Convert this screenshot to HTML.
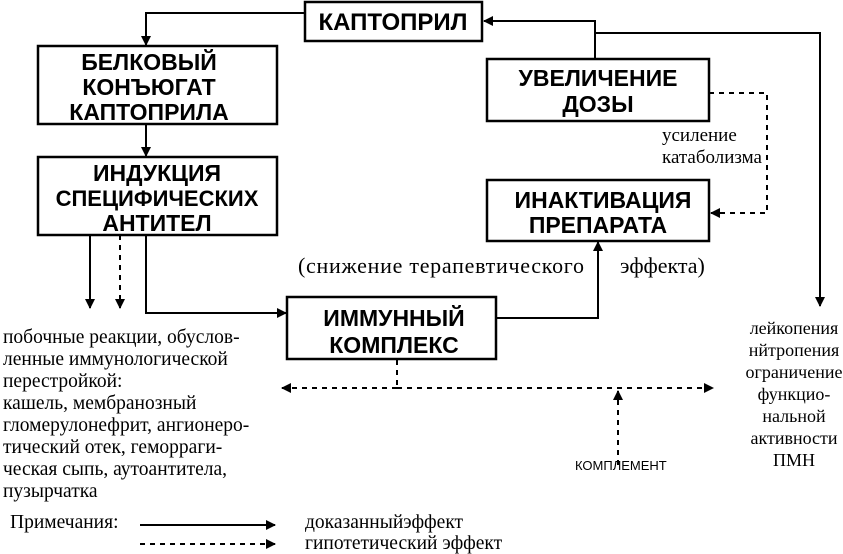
<!DOCTYPE html>
<html><head><meta charset="utf-8"><style>
body{margin:0;background:#fff;}
svg{display:block}
.b{font-family:"Liberation Sans",sans-serif;font-weight:bold;font-size:23px;text-anchor:middle;fill:#000}
.s{font-family:"Liberation Serif",serif;font-size:19.5px;fill:#000}
</style></head><body>
<svg width="843" height="554" viewBox="0 0 843 554" xmlns="http://www.w3.org/2000/svg">
<defs>
<marker id="a" markerWidth="10" markerHeight="10" refX="9" refY="5" orient="auto" markerUnits="userSpaceOnUse"><path d="M0,0 L10,5 L0,10 z" fill="#000"/></marker>
</defs>
<g fill="none" stroke="#000" stroke-width="2.5">
<rect x="305" y="2" width="177" height="39"/>
<rect x="38" y="46" width="239" height="78"/>
<rect x="38" y="157" width="239" height="78"/>
<rect x="487" y="59" width="222" height="62"/>
<rect x="487" y="180" width="222" height="61"/>
<rect x="287" y="297" width="209" height="62"/>
</g>
<g fill="none" stroke="#000" stroke-width="2">
<path d="M305,13 H146 V45" marker-end="url(#a)"/>
<path d="M146,124 V156" marker-end="url(#a)"/>
<path d="M90,235 V308" marker-end="url(#a)"/>
<path d="M146,235 V313 H286" marker-end="url(#a)"/>
<path d="M496,318 H598 V242" marker-end="url(#a)"/>
<path d="M595,59 V21 H484" marker-end="url(#a)"/>
<path d="M595,33 H820 V306" marker-end="url(#a)"/>
<path d="M140,525 H275" marker-end="url(#a)"/>
</g>
<g fill="none" stroke="#000" stroke-width="2" stroke-dasharray="5,5">
<path d="M120,235 V308" marker-end="url(#a)"/>
<path d="M709,93 H767 V213 H711" marker-end="url(#a)"/>
<path d="M397,360 V388"/>
<path d="M397,388 H713" marker-end="url(#a)"/>
<path d="M397,388 H282" marker-end="url(#a)"/>
<path d="M618,465 V391" marker-end="url(#a)"/>
<path d="M140,544 H275" marker-end="url(#a)"/>
</g>
<text class="b" x="393" y="30" style="font-size:24px">КАПТОПРИЛ</text>
<text class="b" x="149" y="70">БЕЛКОВЫЙ</text>
<text class="b" x="149" y="95">КОНЪЮГАТ</text>
<text class="b" x="149" y="120">КАПТОПРИЛА</text>
<text class="b" x="157" y="181">ИНДУКЦИЯ</text>
<text class="b" x="157" y="206" style="font-size:22px">СПЕЦИФИЧЕСКИХ</text>
<text class="b" x="157" y="231">АНТИТЕЛ</text>
<text class="b" x="598" y="86">УВЕЛИЧЕНИЕ</text>
<text class="b" x="598" y="112">ДОЗЫ</text>
<text class="b" x="603" y="208">ИНАКТИВАЦИЯ</text>
<text class="b" x="598" y="233">ПРЕПАРАТА</text>
<text class="b" x="394" y="326">ИММУННЫЙ</text>
<text class="b" x="394" y="353">КОМПЛЕКС</text>
<text class="s" x="662" y="141" style="font-size:19px">усиление</text>
<text class="s" x="662" y="163" style="font-size:19px">катаболизма</text>
<text class="s" x="298" y="273" style="font-size:22px" textLength="286">(снижение терапевтического</text>
<text class="s" x="620" y="273" style="font-size:22px">эффекта)</text>
<text font-family="Liberation Sans,sans-serif" font-size="13" x="575" y="470">КОМПЛЕМЕНТ</text>
<g class="s">
<text x="3" y="343">побочные реакции, обуслов-</text>
<text x="3" y="365">ленные иммунологической</text>
<text x="3" y="387">перестройкой:</text>
<text x="3" y="409">кашель, мембранозный</text>
<text x="3" y="431">гломерулонефрит, ангионеро-</text>
<text x="3" y="453">тический отек, геморраги-</text>
<text x="3" y="475">ческая сыпь, аутоантитела,</text>
<text x="3" y="497">пузырчатка</text>
</g>
<g class="s" text-anchor="middle" style="font-size:18px">
<text x="794" y="334">лейкопения</text>
<text x="794" y="356">нйтропения</text>
<text x="794" y="378">ограничение</text>
<text x="794" y="400">функцио-</text>
<text x="794" y="422">нальной</text>
<text x="794" y="444">активности</text>
<text x="794" y="466">ПМН</text>
</g>
<text class="s" x="10" y="528">Примечания:</text>
<text class="s" x="305" y="528">доказанныйэффект</text>
<text class="s" x="305" y="549">гипотетический эффект</text>
</svg>
</body></html>
